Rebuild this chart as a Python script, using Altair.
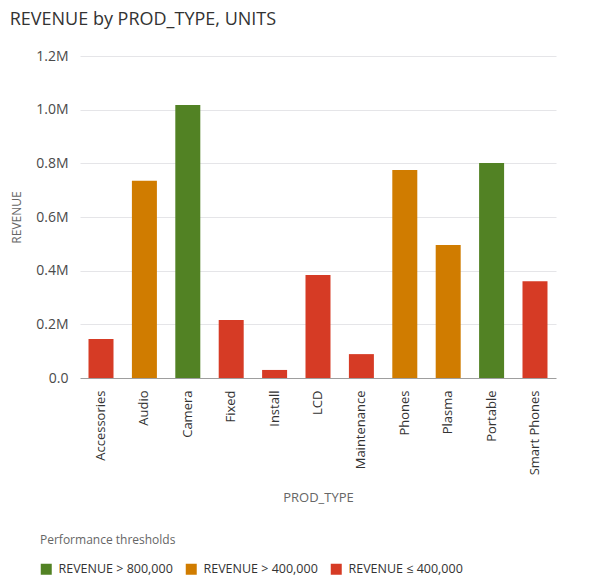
import pandas as pd
import altair as alt

# dados
prod_types = ["Accessories", "Audio", "Camera", "Fixed", "Install", "LCD",
              "Maintenance", "Phones", "Plasma", "Portable", "Smart Phones"]
revenue = [145000, 735000, 1017000, 216000, 30000, 384000,
           89000, 775000, 496000, 801000, 361000]

faixas = ["REVENUE > 800,000", "REVENUE > 400,000", "REVENUE \u2264 400,000"]
cores = ["#528224", "#d07c00", "#d63b25"]


def faixa(v):
    if v > 800000:
        return faixas[0]
    if v > 400000:
        return faixas[1]
    return faixas[2]


df = pd.DataFrame({"PROD_TYPE": prod_types, "REVENUE": revenue})
df["faixa"] = df["REVENUE"].apply(faixa)

fonte = "Open Sans"

bars = alt.Chart(df).mark_bar().encode(
    x=alt.X("PROD_TYPE:N", title="PROD_TYPE", sort=prod_types,
            scale=alt.Scale(range=[0, 476], paddingInner=0.424, paddingOuter=0.196),
            axis=alt.Axis(labelAngle=-90, domain=False, ticks=False, labelPadding=12,
                          labelFontSize=13, labelColor="#333333", titleFontSize=13,
                          titleColor="#666666", titleFontWeight="normal", titlePadding=17)),
    y=alt.Y("REVENUE:Q", title="REVENUE",
            scale=alt.Scale(domain=[0, 1200000]),
            axis=alt.Axis(values=[0, 200000, 400000, 600000, 800000, 1000000, 1200000],
                          labelExpr="datum.value == 0 ? '0.0' : format(datum.value / 1000000, '.1f') + 'M'",
                          domain=False, ticks=False, labelPadding=12, labelFontSize=14,
                          labelColor="#4a4a4a", titleFontSize=12, titleColor="#666666",
                          titleFontWeight="normal", titlePadding=12,
                          gridColor=alt.condition("datum.value === 0", alt.value("#9e9e9e"), alt.value("#e5e5e8")))),
    color=alt.Color("faixa:N", title="Performance thresholds",
                    scale=alt.Scale(domain=faixas, range=cores),
                    legend=alt.Legend(orient="none", legendX=-40, legendY=479,
                                      direction="horizontal", columns=3, titleOrient="top",
                                      gridAlign="none",
                                      symbolType="square", symbolSize=121, symbolStrokeWidth=0,
                                      titleFontSize=12, titleFontWeight="normal",
                                      titleColor="#666666", titlePadding=16,
                                      labelFontSize=12.5, labelColor="#333333",
                                      labelOffset=6, columnPadding=12)),
    tooltip=["PROD_TYPE:N", "REVENUE:Q"]
).properties(
    width=495,
    height=322,
    title=alt.TitleParams("REVENUE by PROD_TYPE, UNITS", anchor="start", fontSize=18,
                          fontWeight="normal", color="#333333", offset=20, dx=-1),
    padding={"left": 1, "top": 3, "right": 8, "bottom": 8}
).configure(
    font=fonte
).configure_view(
    stroke=None
)

bars.save("out.html", embed_options={"renderer": "svg", "actions": False})
